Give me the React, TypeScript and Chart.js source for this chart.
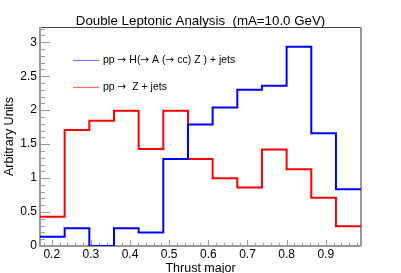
import React, { useEffect, useRef } from "react";
import { Chart, registerables } from "chart.js";

Chart.register(...registerables);

const binEdges = [0.17, 0.233, 0.296, 0.359, 0.422, 0.485, 0.548, 0.611, 0.674, 0.737, 0.8, 0.863, 0.926, 0.99];
const signalValues = [0.137, 0.26, 0.0, 0.26, 0.2, 1.28, 1.79, 2.04, 2.3, 2.36, 2.935, 1.66, 0.835];
const backgroundValues = [0.43, 1.71, 1.845, 1.99, 1.43, 1.99, 1.28, 0.997, 0.86, 1.42, 1.13, 0.71, 0.29];
const xTickLabels = ["0.2", "0.3", "0.4", "0.5", "0.6", "0.7", "0.8", "0.9"];
const yTickLabels = ["0", "0.5", "1", "1.5", "2", "2.5", "3"];
const seriesNames = ["pp \u2192 H(\u2192 A (\u2192 cc) Z ) + jets", "pp \u2192  Z + jets"];
const titleText = "Double Leptonic Analysis  (mA=10.0 GeV)";
const xTitle = "Thrust major";
const yTitle = "Arbitrary Units";

const X_MIN = 0.17;
const X_MAX = 0.99;
const Y_MIN = 0;
const Y_MAX = 3.225;

function stepPoints(values: number[]) {
  const pts = values.map((v, i) => ({ x: binEdges[i], y: v }));
  pts.push({ x: binEdges[binEdges.length - 1], y: values[values.length - 1] });
  return pts;
}

const FONT = "'Liberation Sans', Arial, Helvetica, sans-serif";
const ARROW_FONT = "'DejaVu Sans', sans-serif";

function drawMixed(ctx: CanvasRenderingContext2D, text: string, x: number, y: number, size: number) {
  let cx = x;
  const parts = text.split(/(\u2192)/);
  parts.forEach((p) => {
    if (!p) return;
    if (p === "\u2192") {
      ctx.font = `${size}px ${ARROW_FONT}`;
    } else {
      ctx.font = `${size}px ${FONT}`;
    }
    ctx.fillText(p, cx, y);
    cx += ctx.measureText(p).width;
  });
}

const rootStylePlugin = {
  id: "rootStyle",
  beforeDatasetsDraw(chart: any) {
    const ctx = chart.ctx;
    const xs = chart.scales.x;
    const ys = chart.scales.y;
    const { left, right, top, bottom } = chart.chartArea;
    ctx.save();
    ctx.fillStyle = "#ffffff";
    ctx.fillRect(left, top, right - left, bottom - top);
    // frame
    ctx.strokeStyle = "#444444";
    ctx.lineWidth = 1;
    ctx.beginPath();
    ctx.moveTo(left, top + 0.5);
    ctx.lineTo(right, top + 0.5);
    ctx.stroke();
    ctx.strokeStyle = "#999999";
    ctx.lineWidth = 2;
    ctx.beginPath();
    ctx.moveTo(right, top);
    ctx.lineTo(right, bottom);
    ctx.stroke();
    ctx.beginPath();
    ctx.moveTo(left, top);
    ctx.lineTo(left, bottom);
    ctx.lineTo(right, bottom);
    ctx.stroke();

    // y ticks
    ctx.lineWidth = 1;
    ctx.strokeStyle = "#999999";
    for (let k = 0; k <= 32; k++) {
      const v = k / 10;
      const py = Math.round(ys.getPixelForValue(v)) + 0.5;
      const len = k % 5 === 0 ? 10 : 5;
      ctx.beginPath();
      ctx.moveTo(left, py);
      ctx.lineTo(left + len, py);
      ctx.stroke();
    }
    // x ticks
    for (let k = 9; k <= 49; k++) {
      const v = k / 50;
      if (v < X_MIN || v > X_MAX) continue;
      const px = Math.round(xs.getPixelForValue(v)) + 0.5;
      const len = k % 5 === 0 ? 6 : 3;
      ctx.beginPath();
      ctx.moveTo(px, bottom);
      ctx.lineTo(px, bottom - len);
      ctx.stroke();
    }
    ctx.restore();
  },
  afterDatasetsDraw(chart: any) {
    const ctx = chart.ctx;
    const xs = chart.scales.x;
    const ys = chart.scales.y;
    const { left, right, top, bottom } = chart.chartArea;
    ctx.save();
    ctx.fillStyle = "#000000";
    // y tick labels
    ctx.font = `12px ${FONT}`;
    ctx.textAlign = "right";
    ctx.textBaseline = "middle";
    yTickLabels.forEach((t) => {
      const py = ys.getPixelForValue(parseFloat(t));
      ctx.fillText(t, left - 3, py);
    });
    // x tick labels
    ctx.textAlign = "center";
    ctx.textBaseline = "top";
    xTickLabels.forEach((t) => {
      const px = xs.getPixelForValue(parseFloat(t));
      ctx.fillText(t, px, bottom + 3);
    });

    // axis titles
    ctx.font = `12.5px ${FONT}`;
    ctx.textAlign = "center";
    ctx.textBaseline = "alphabetic";
    ctx.fillText(xTitle, (left + right) / 2, 272);
    ctx.save();
    ctx.translate(12.5, (top + bottom) / 2);
    ctx.rotate(-Math.PI / 2);
    ctx.fillText(yTitle, 0, 0);
    ctx.restore();

    // title
    ctx.font = `13.3px ${FONT}`;
    ctx.textAlign = "center";
    ctx.textBaseline = "alphabetic";
    ctx.fillText(titleText, 200.5, 25);

    // legend
    const legendColors = ["rgba(0,0,255,0.5)", "rgba(255,0,0,0.6)"];
    const legendY = [60, 87];
    ctx.textAlign = "left";
    ctx.textBaseline = "middle";
    seriesNames.forEach((name, i) => {
      ctx.strokeStyle = legendColors[i];
      ctx.lineWidth = 1.2;
      ctx.beginPath();
      ctx.moveTo(73, legendY[i] + 0.5);
      ctx.lineTo(99, legendY[i] + 0.5);
      ctx.stroke();
      ctx.fillStyle = "#000000";
      drawMixed(ctx, name, 103, legendY[i], 10.5);
    });
    ctx.restore();
  },
};

export default function App() {
  const ref = useRef<HTMLCanvasElement | null>(null);
  useEffect(() => {
    document.body.style.margin = "0";
    const canvas = ref.current;
    if (!canvas) return;
    const chart = new Chart(canvas, {
      type: "line",
      data: {
        datasets: [
          {
            label: seriesNames[0],
            data: stepPoints(signalValues),
            borderColor: "#0000ff",
            borderWidth: 2,
            stepped: "before",
            pointRadius: 0,
            fill: false,
          },
          {
            label: seriesNames[1],
            data: stepPoints(backgroundValues),
            borderColor: "#ff0000",
            borderWidth: 2,
            stepped: "before",
            pointRadius: 0,
            fill: false,
          },
        ],
      },
      options: {
        responsive: false,
        animation: false,
        layout: { padding: { left: 40, right: 40, top: 27, bottom: 27 } },
        plugins: { legend: { display: false }, tooltip: { enabled: false }, title: { display: false } },
        scales: {
          x: { type: "linear", min: X_MIN, max: X_MAX, display: false },
          y: { type: "linear", min: Y_MIN, max: Y_MAX, display: false },
        },
      },
      plugins: [rootStylePlugin],
    } as any);
    return () => chart.destroy();
  }, []);
  return (
    <div style={{ width: 401, height: 273, background: "#ffffff" }}>
      <canvas ref={ref} width={401} height={273} style={{ display: "block" }} />
    </div>
  );
}
